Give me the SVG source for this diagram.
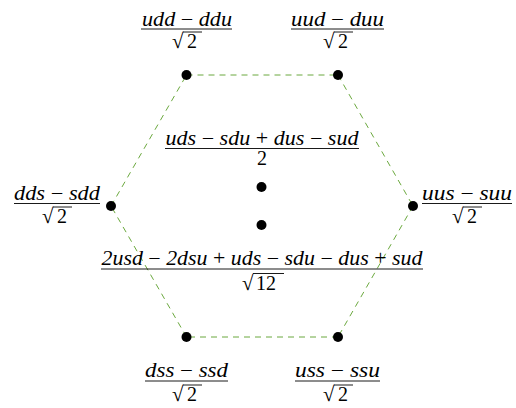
<svg xmlns="http://www.w3.org/2000/svg" width="516" height="408" viewBox="0 0 516 408">
<style>
.m{font-style:italic;fill:#000}
.r{font-style:normal}
.d{fill:#000}
.rad{fill:#000;font-size:21px}
.fl{stroke:#000;stroke-width:0.9}
.e{stroke:#5a9e28;stroke-width:0.9;stroke-dasharray:6,5;fill:none}
.dot{fill:#000}
</style>
<g id="connectors">
<line class="e" x1="186.5" y1="75" x2="338" y2="75"/>
<line class="e" x1="338" y1="75" x2="413" y2="206"/>
<line class="e" x1="413" y1="206" x2="338" y2="337"/>
<line class="e" x1="338" y1="337" x2="186.5" y2="337"/>
<line class="e" x1="186.5" y1="337" x2="111" y2="206"/>
<line class="e" x1="111" y1="206" x2="186.5" y2="75"/>
</g>
<g font-family="Liberation Serif, DejaVu Serif, serif" font-size="20">
<g id="n-udd">
<circle class="dot" cx="186.5" cy="75" r="5"/>
<text class="m" x="187" y="25.5" text-anchor="middle" textLength="90" lengthAdjust="spacingAndGlyphs">udd<tspan class="r"> − </tspan>ddu</text>
<line class="fl" x1="141" y1="29" x2="232" y2="29"/>
<text class="rad" x="172" y="48">√</text><line class="fl" x1="183" y1="32" x2="202" y2="32"/><text class="d" x="187" y="48">2</text>
</g>
<g id="n-uud">
<circle class="dot" cx="338" cy="75" r="5"/>
<text class="m" x="337.5" y="25.5" text-anchor="middle" textLength="93" lengthAdjust="spacingAndGlyphs">uud<tspan class="r"> − </tspan>duu</text>
<line class="fl" x1="291" y1="29" x2="384" y2="29"/>
<text class="rad" x="323" y="48">√</text><line class="fl" x1="334" y1="32" x2="353" y2="32"/><text class="d" x="338" y="48">2</text>
</g>
<g id="n-dds">
<circle class="dot" cx="111" cy="206" r="5"/>
<text class="m" x="57" y="199.5" text-anchor="middle" textLength="86" lengthAdjust="spacingAndGlyphs">dds<tspan class="r"> − </tspan>sdd</text>
<line class="fl" x1="14" y1="203.5" x2="100" y2="203.5"/>
<text class="rad" x="42" y="223">√</text><line class="fl" x1="53" y1="207" x2="72" y2="207"/><text class="d" x="57" y="223">2</text>
</g>
<g id="n-uus">
<circle class="dot" cx="413" cy="206" r="5"/>
<text class="m" x="467" y="199.5" text-anchor="middle" textLength="90" lengthAdjust="spacingAndGlyphs">uus<tspan class="r"> − </tspan>suu</text>
<line class="fl" x1="422" y1="203.5" x2="512" y2="203.5"/>
<text class="rad" x="452" y="223">√</text><line class="fl" x1="463" y1="207" x2="482" y2="207"/><text class="d" x="467" y="223">2</text>
</g>
<g id="n-lambda">
<circle class="dot" cx="261.5" cy="187" r="5"/>
<text class="m" x="262" y="144.5" text-anchor="middle" textLength="193" lengthAdjust="spacingAndGlyphs">uds<tspan class="r"> − </tspan>sdu<tspan class="r"> + </tspan>dus<tspan class="r"> − </tspan>sud</text>
<line class="fl" x1="165" y1="148.5" x2="359" y2="148.5"/>
<text class="d" x="262" y="165" text-anchor="middle">2</text>
</g>
<g id="n-sigma">
<circle class="dot" cx="261.5" cy="225" r="5"/>
<text class="m" x="262" y="264.5" text-anchor="middle" textLength="321" lengthAdjust="spacingAndGlyphs">2usd<tspan class="r"> − </tspan>2dsu<tspan class="r"> + </tspan>uds<tspan class="r"> − </tspan>sdu<tspan class="r"> − </tspan>dus<tspan class="r"> + </tspan>sud</text>
<line class="fl" x1="101" y1="269" x2="423" y2="269"/>
<text class="rad" x="242" y="289.5">√</text><line class="fl" x1="253" y1="273.5" x2="284" y2="273.5"/><text class="d" x="256" y="289.5">12</text>
</g>
<g id="n-dss">
<circle class="dot" cx="186.5" cy="337" r="5"/>
<text class="m" x="186.5" y="377" text-anchor="middle" textLength="83" lengthAdjust="spacingAndGlyphs">dss<tspan class="r"> − </tspan>ssd</text>
<line class="fl" x1="145" y1="381" x2="228" y2="381"/>
<text class="rad" x="172" y="401">√</text><line class="fl" x1="183" y1="385" x2="202" y2="385"/><text class="d" x="187" y="401">2</text>
</g>
<g id="n-uss">
<circle class="dot" cx="338" cy="337" r="5"/>
<text class="m" x="337.5" y="377" text-anchor="middle" textLength="85" lengthAdjust="spacingAndGlyphs">uss<tspan class="r"> − </tspan>ssu</text>
<line class="fl" x1="295" y1="381" x2="380" y2="381"/>
<text class="rad" x="323" y="401">√</text><line class="fl" x1="334" y1="385" x2="353" y2="385"/><text class="d" x="338" y="401">2</text>
</g>
</g>
</svg>
